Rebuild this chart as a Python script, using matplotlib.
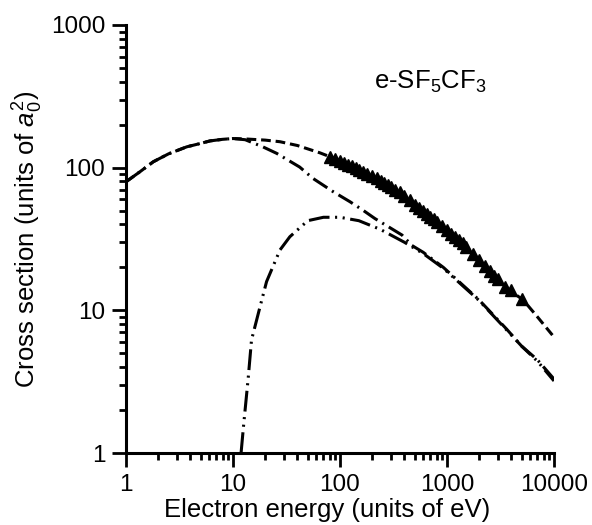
"""Electron scattering cross sections for SF5CF3 (log-log)."""

import matplotlib

matplotlib.use("Agg")
import matplotlib.pyplot as plt
from matplotlib.ticker import LogLocator, NullFormatter, FixedLocator

plt.rcParams["font.family"] = ["Liberation Sans", "DejaVu Sans"]
plt.rcParams["mathtext.fontset"] = "custom"
plt.rcParams["mathtext.rm"] = "Liberation Sans"
plt.rcParams["mathtext.it"] = "Liberation Sans:italic"
plt.rcParams["lines.scale_dashes"] = False

# total cross section (dashed)
total_e = [1, 1.35, 1.8, 2.5, 3.7, 5, 6.1, 8, 10, 13, 20, 27.5, 40, 65, 100, 150, 200,
           273, 315, 484, 700, 860, 1000, 1500, 2000, 2713, 4030, 5164, 7000, 10000]
total_s = [79.6, 93.6, 110, 125, 140, 148, 154, 158, 160, 159, 156, 152, 143, 127, 112, 97, 87,
           76, 72, 55, 45, 39, 36.5, 27.5, 22.5, 17.2, 13.5, 11.8, 9.0, 6.5]

# elastic cross section (dash-dot)
elastic_e = [1, 1.35, 1.8, 2.5, 3.7, 5, 6.1, 8, 10, 13, 19, 25.6, 42, 56, 86, 124, 166, 212,
             380, 470, 600, 925, 2000, 3600, 5000, 7000, 10000]
elastic_s = [79.6, 93.6, 110, 125, 140, 148, 154, 158, 160, 157, 140, 126, 101, 84, 68, 57.7, 50, 44,
             33.7, 28.5, 25.5, 20, 11.8, 7.4, 5.6, 4.5, 3.3]

# ionization cross section (dash-dot-dot)
ion_e = [11.9, 12.5, 13.9, 14.9, 17.9, 20.6, 27.5, 34, 50, 70, 100, 150, 237, 400, 600, 925,
         2000, 3600, 5000, 7000, 10000]
ion_s = [1.0, 1.5, 3.4, 6.2, 10.6, 15.9, 26.5, 32.8, 42.5, 44.9, 44.9, 42.5, 37, 30, 25, 19.7,
         11.7, 7.3, 5.6, 4.4, 3.2]

# measured total (triangles)
meas_e = [80, 90, 100, 110, 120, 130, 140, 150, 165, 180, 200, 220, 240, 260, 280, 300, 330, 360,
          400, 450, 500, 550, 600, 650, 700, 750, 800, 900, 1000, 1100, 1200, 1300, 1400, 1500,
          1750, 2000, 2250, 2500, 2750, 3000, 3500, 4000, 5000]
meas_s = [119, 115, 111, 108, 105, 102, 99, 97, 94, 91, 87, 84, 81, 78, 75, 73, 70, 67,
          63, 59, 55, 52, 49.5, 47.5, 45, 43.5, 41.5, 39, 36.5, 34.5, 32.5, 31, 29.5, 28,
          25, 22.5, 20.5, 19, 17.5, 16.5, 14.5, 13.8, 12.0]

x_ticks = [1, 10, 100, 1000, 10000]
x_tick_labels = ["1", "10", "100", "1000", "10000"]
y_ticks = [1, 10, 100, 1000]
y_tick_labels = ["1", "10", "100", "1000"]

fig = plt.figure(figsize=(5.92, 5.25), dpi=100)
ax = fig.add_axes([0.2128, 0.1371, 0.723, 0.8153])

lw = 2.2
ax.plot(total_e, total_s, color="black", lw=lw, linestyle=(0, (7, 3.5)))
ax.plot(elastic_e, elastic_s, color="black", lw=lw, linestyle=(0, (12, 4, 1.5, 4)))
ax.plot(ion_e, ion_s, color="black", lw=lw, linestyle=(0, (15, 4, 1.5, 4, 1.5, 4)))
ax.plot(meas_e, meas_s, linestyle="none", marker="^", color="black", markersize=8)

ax.set_xscale("log")
ax.set_yscale("log")
ax.set_xlim(1, 10000)
ax.set_ylim(1, 1000)

ax.xaxis.set_major_locator(FixedLocator(x_ticks))
ax.set_xticklabels(x_tick_labels)
ax.yaxis.set_major_locator(FixedLocator(y_ticks))
ax.set_yticklabels(y_tick_labels)
ax.xaxis.set_minor_locator(LogLocator(base=10, subs=range(2, 10), numticks=20))
ax.yaxis.set_minor_locator(LogLocator(base=10, subs=range(2, 10), numticks=20))
ax.xaxis.set_minor_formatter(NullFormatter())
ax.yaxis.set_minor_formatter(NullFormatter())

for side in ("top", "right"):
    ax.spines[side].set_visible(False)
for side in ("left", "bottom"):
    ax.spines[side].set_linewidth(2.2)

ax.tick_params(which="major", length=10, width=2, labelsize=17.5, pad=5)
ax.tick_params(which="minor", length=5, width=2)

ax.set_xlabel("Electron energy (units of eV)", fontsize=18.5)
ax.xaxis.set_label_coords(0.47, -0.106)
ax.set_ylabel("Cross section (units of $\\mathit{a}_0^2$)", fontsize=18.5, labelpad=4)

ax.text(695, 398, "e-SF$_5$CF$_3$", fontsize=18.5, ha="center", va="center")

fig.savefig("out.png", dpi=100)
